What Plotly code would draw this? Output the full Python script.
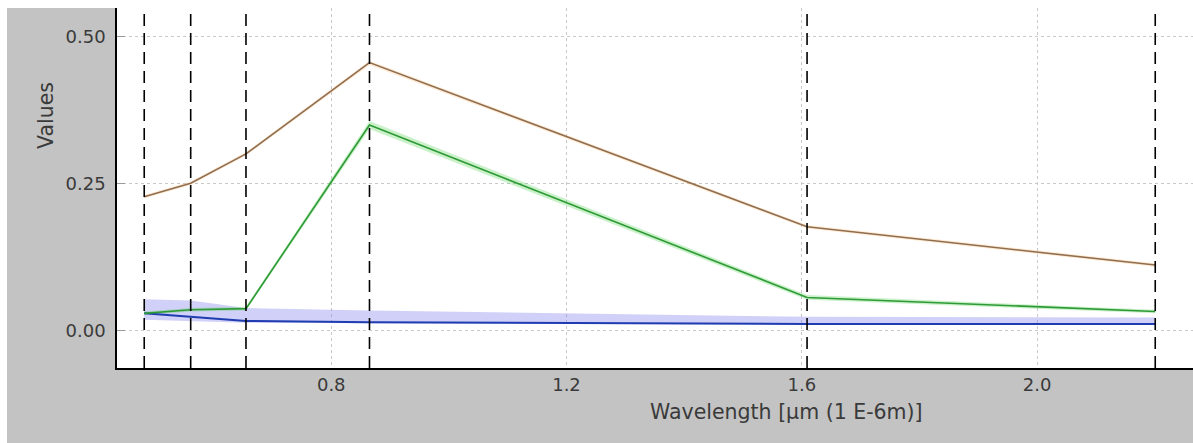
import plotly.graph_objects as go

# Band centre wavelengths (µm)
wavelengths = [0.482, 0.561, 0.655, 0.865, 1.609, 2.201]

# Series values
soil = [0.228, 0.251, 0.301, 0.456, 0.177, 0.112]
soil_lo = [0.225, 0.248, 0.298, 0.452, 0.174, 0.109]
soil_hi = [0.231, 0.254, 0.304, 0.459, 0.180, 0.115]

veg = [0.030, 0.036, 0.038, 0.350, 0.057, 0.033]
veg_lo = [0.027, 0.033, 0.035, 0.343, 0.053, 0.030]
veg_hi = [0.033, 0.039, 0.041, 0.357, 0.061, 0.036]

water = [0.030, 0.024, 0.017, 0.015, 0.012, 0.012]
water_lo = [0.019, 0.017, 0.014, 0.013, 0.011, 0.011]
water_hi = [0.054, 0.052, 0.039, 0.035, 0.024, 0.023]

y_tickvals = [0.0, 0.25, 0.5]
y_ticktext = ["0.00", "0.25", "0.50"]
x_tickvals = [0.8, 1.2, 1.6, 2.0]
x_ticktext = ["0.8", "1.2", "1.6", "2.0"]

x_title = "Wavelength [µm (1 E-6m)]"
y_title = "Values"

FONT = "DejaVu Sans"
TXT = "#3a3a3a"
TICK_SIZE = 18
TITLE_SIZE = 20.5

fig = go.Figure()


def band(lo, hi, color):
    fig.add_trace(go.Scatter(x=wavelengths, y=lo, mode="lines", line=dict(width=0),
                             showlegend=False, hoverinfo="skip"))
    fig.add_trace(go.Scatter(x=wavelengths, y=hi, mode="lines", line=dict(width=0),
                             fill="tonexty", fillcolor=color, showlegend=False, hoverinfo="skip"))


band(water_lo, water_hi, "rgba(120,120,235,0.35)")
band(veg_lo, veg_hi, "rgba(80,210,80,0.30)")
band(soil_lo, soil_hi, "rgba(255,190,110,0.30)")

fig.add_trace(go.Scatter(x=wavelengths, y=water, mode="lines",
                         line=dict(color="#1f3cb0", width=2), showlegend=False))
fig.add_trace(go.Scatter(x=wavelengths, y=veg, mode="lines",
                         line=dict(color="#2e9a35", width=1.6), showlegend=False))
fig.add_trace(go.Scatter(x=wavelengths, y=soil, mode="lines",
                         line=dict(color="#8f6e52", width=1.6), showlegend=False))

shapes = []
for w in wavelengths:
    shapes.append(dict(type="line", xref="x", yref="paper", x0=w, x1=w, y0=0, y1=1,
                       line=dict(color="black", width=1.6, dash="12px,7px"), layer="above"))

# white outer strips (top and left) of the picture
shapes.append(dict(type="rect", xref="paper", yref="paper", x0=-0.12, x1=1.01,
                   y0=1.0, y1=1.03, fillcolor="white", line=dict(width=0), layer="below"))
shapes.append(dict(type="rect", xref="paper", yref="paper", x0=-0.12, x1=-117/1076 + 7/1076,
                   y0=-0.25, y1=1.03, fillcolor="white", line=dict(width=0), layer="below"))

fig.update_layout(
    width=1193, height=443,
    margin=dict(l=117, r=0, t=8, b=75),
    paper_bgcolor="#c3c3c3",
    plot_bgcolor="white",
    font=dict(family=FONT, color=TXT, size=TICK_SIZE),
    shapes=shapes,
    showlegend=False,
    annotations=[
        dict(text=y_title, xref="paper", yref="paper", x=(45.5 - 117) / 1076, y=(368 - 115.5) / 360,
             textangle=-90, showarrow=False, font=dict(family=FONT, size=TITLE_SIZE, color=TXT),
             xanchor="center", yanchor="middle"),
        dict(text=x_title, xref="paper", yref="paper", x=(786 - 117) / 1076, y=(368 - 412) / 360,
             showarrow=False, font=dict(family=FONT, size=TITLE_SIZE, color=TXT),
             xanchor="center", yanchor="middle"),
    ],
)

fig.update_xaxes(range=[0.4357, 2.2652], tickvals=x_tickvals, ticktext=x_ticktext,
                 showgrid=True, gridcolor="#c8c8c8", griddash="dot", gridwidth=1,
                 showline=True, linecolor="black", linewidth=1.5, zeroline=False,
                 ticks="", tickfont=dict(family=FONT, size=TICK_SIZE, color=TXT))
fig.update_yaxes(range=[-0.0629, 0.5488], tickvals=y_tickvals, ticktext=y_ticktext,
                 showgrid=True, gridcolor="#c8c8c8", griddash="dot", gridwidth=1,
                 showline=True, linecolor="black", linewidth=1.5, zeroline=False,
                 ticks="inside", ticklen=8, tickcolor="#9a9a9a", tickwidth=1,
                 ticklabelstandoff=6,
                 tickfont=dict(family=FONT, size=TICK_SIZE, color=TXT))

fig.write_html("out.html")
